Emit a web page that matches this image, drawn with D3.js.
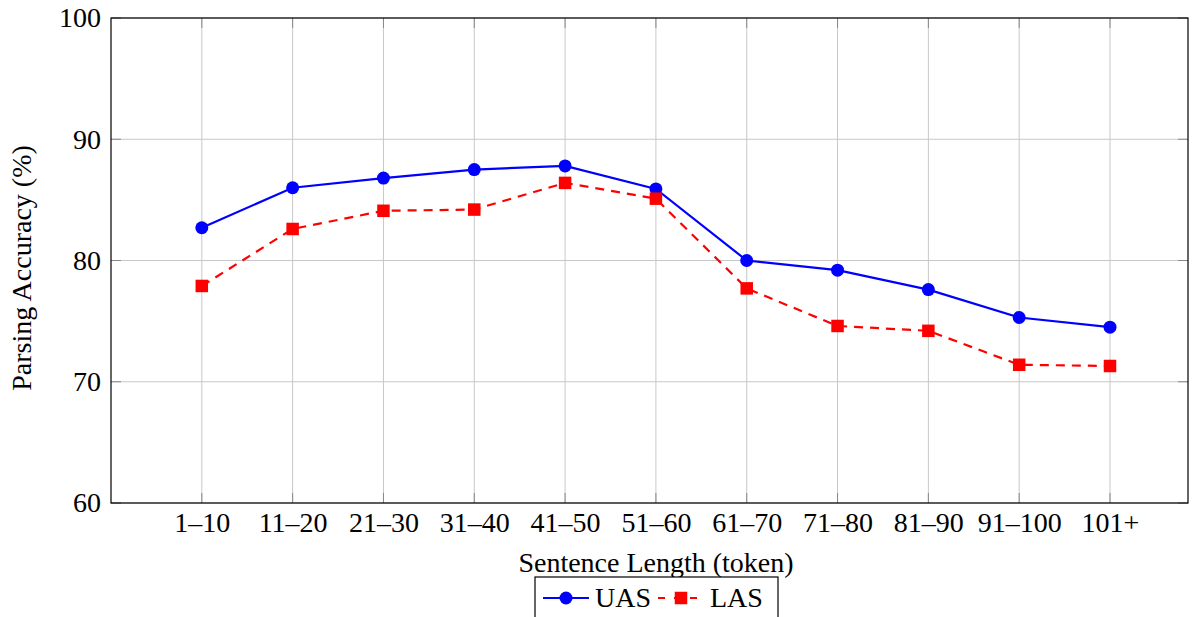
<!DOCTYPE html>
<html>
<head>
<meta charset="utf-8">
<script src="https://cdn.jsdelivr.net/npm/d3@7"></script>
<style>
	body { margin: 0; background: #fff; }
</style>
</head>
<body>
<div id="chart"></div>
<script>
const categories = ["1–10", "11–20", "21–30", "31–40", "41–50", "51–60", "61–70", "71–80", "81–90", "91–100", "101+"];
const uasValues = [82.7, 86.0, 86.8, 87.5, 87.8, 85.9, 80.0, 79.2, 77.6, 75.3, 74.5];
const lasValues = [77.9, 82.6, 84.1, 84.2, 86.4, 85.1, 77.7, 74.6, 74.2, 71.4, 71.3];
const yTicks = [60, 70, 80, 90, 100];

const FONT = "Liberation Serif";
const width = 1196;
const height = 617;
const margin = { left: 111, right: 8, top: 18, bottom: 114 };
const plotW = width - margin.left - margin.right;
const plotH = height - margin.top - margin.bottom;

const svg = d3
	.select("#chart")
	.append("svg")
	.attr("width", width)
	.attr("height", height);

const g = svg
	.append("g")
	.attr("transform", `translate(${margin.left}, ${margin.top})`);

// index scale, one step of padding on the left
const x = d3.scaleLinear().domain([-1, 10]).range([0, 999]);
const y = d3.scaleLinear().domain([60, 100]).range([plotH, 0]);

//grid
g.selectAll(".vgrid")
	.data(categories)
	.enter()
	.append("line")
	.attr("x1", (d, i) => x(i))
	.attr("x2", (d, i) => x(i))
	.attr("y1", 0)
	.attr("y2", plotH)
	.attr("stroke", "#c8c8c8")
	.attr("stroke-width", 1);

g.selectAll(".hgrid")
	.data(yTicks)
	.enter()
	.append("line")
	.attr("x1", 0)
	.attr("x2", plotW)
	.attr("y1", d => y(d))
	.attr("y2", d => y(d))
	.attr("stroke", "#c8c8c8")
	.attr("stroke-width", 1);

// small inner tick marks
const tickLen = 10;
const tickColor = "#888";
categories.forEach((c, i) => {
	g.append("line").attr("x1", x(i)).attr("x2", x(i)).attr("y1", plotH).attr("y2", plotH - tickLen).attr("stroke", tickColor);
	g.append("line").attr("x1", x(i)).attr("x2", x(i)).attr("y1", 0).attr("y2", tickLen).attr("stroke", tickColor);
});
yTicks.forEach(t => {
	g.append("line").attr("x1", 0).attr("x2", tickLen).attr("y1", y(t)).attr("y2", y(t)).attr("stroke", tickColor);
	g.append("line").attr("x1", plotW).attr("x2", plotW - tickLen).attr("y1", y(t)).attr("y2", y(t)).attr("stroke", tickColor);
});

// frame
g.append("rect")
	.attr("x", 0)
	.attr("y", 0)
	.attr("width", plotW)
	.attr("height", plotH)
	.attr("fill", "none")
	.attr("stroke", "#000")
	.attr("stroke-width", 1.2);

// axes labels via d3 axes
const xAxis = g
	.append("g")
	.attr("transform", `translate(0, ${plotH})`)
	.call(
		d3.axisBottom(x)
			.tickValues(d3.range(categories.length))
			.tickFormat(i => categories[i])
			.tickSize(0)
			.tickPadding(9)
	);
xAxis.select(".domain").remove();
xAxis.selectAll("text")
	.style("font-family", FONT)
	.style("font-size", "28px")
	.attr("fill", "#000");

const yAxis = g
	.append("g")
	.call(d3.axisLeft(y).tickValues(yTicks).tickSize(0).tickPadding(10));
yAxis.select(".domain").remove();
yAxis.selectAll("text")
	.style("font-family", FONT)
	.style("font-size", "28px")
	.attr("fill", "#000");

svg.append("text")
	.attr("x", 656)
	.attr("y", 572)
	.attr("text-anchor", "middle")
	.style("font-family", FONT)
	.style("font-size", "28px")
	.text("Sentence Length (token)");

svg.append("text")
	.attr("transform", "translate(31, 268) rotate(-90)")
	.attr("text-anchor", "middle")
	.style("font-family", FONT)
	.style("font-size", "28px")
	.text("Parsing Accuracy (%)");

// lines
const line = d3
	.line()
	.x((d, i) => x(i))
	.y(d => y(d));

g.append("path")
	.datum(uasValues)
	.attr("d", line)
	.attr("fill", "none")
	.attr("stroke", "#0000ff")
	.attr("stroke-width", 2.2);

g.append("path")
	.datum(lasValues)
	.attr("d", line)
	.attr("fill", "none")
	.attr("stroke", "#ff0000")
	.attr("stroke-width", 2.2)
	.attr("stroke-dasharray", "9,7");

g.selectAll(".uas-dot")
	.data(uasValues)
	.enter()
	.append("circle")
	.attr("cx", (d, i) => x(i))
	.attr("cy", d => y(d))
	.attr("r", 6.5)
	.attr("fill", "#0000ff");

const sq = 12.5;
g.selectAll(".las-sq")
	.data(lasValues)
	.enter()
	.append("rect")
	.attr("x", (d, i) => x(i) - sq / 2)
	.attr("y", d => y(d) - sq / 2)
	.attr("width", sq)
	.attr("height", sq)
	.attr("fill", "#ff0000");

// legend
const legend = svg.append("g");
legend.append("rect")
	.attr("x", 535)
	.attr("y", 577)
	.attr("width", 243)
	.attr("height", 60)
	.attr("fill", "#fff")
	.attr("stroke", "#000")
	.attr("stroke-width", 1.2);

const ly = 598;
legend.append("line").attr("x1", 543).attr("x2", 589).attr("y1", ly).attr("y2", ly).attr("stroke", "#0000ff").attr("stroke-width", 2.2);
legend.append("circle").attr("cx", 566).attr("cy", ly).attr("r", 6.5).attr("fill", "#0000ff");
legend.append("text").attr("x", 595).attr("y", 607).style("font-family", FONT).style("font-size", "28px").text("UAS");

legend.append("line").attr("x1", 658).attr("x2", 704).attr("y1", ly).attr("y2", ly).attr("stroke", "#ff0000").attr("stroke-width", 2.2).attr("stroke-dasharray", "7,9").attr("stroke-dashoffset", 0);
legend.append("rect").attr("x", 681 - sq / 2).attr("y", ly - sq / 2).attr("width", sq).attr("height", sq).attr("fill", "#ff0000");
legend.append("text").attr("x", 710).attr("y", 607).style("font-family", FONT).style("font-size", "28px").text("LAS");
</script>
</body>
</html>
